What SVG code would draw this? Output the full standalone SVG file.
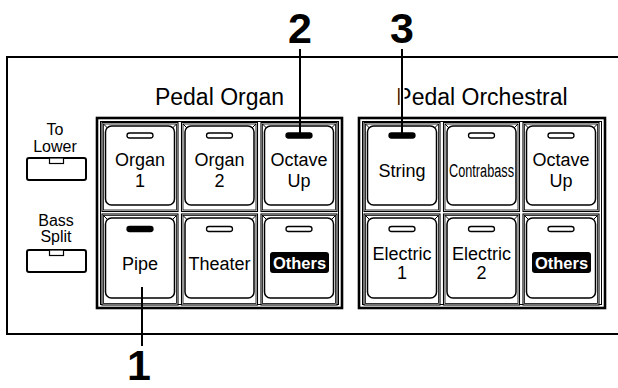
<svg xmlns="http://www.w3.org/2000/svg" width="618" height="388" viewBox="0 0 618 388">
<style>
text{font-family:"Liberation Sans",Arial,sans-serif;fill:#000}
.lbl{font-size:18px;text-anchor:middle}
.sm{font-size:16px;text-anchor:middle}
.grp{font-size:23px;text-anchor:middle}
.num{font-size:43px;font-weight:bold;text-anchor:middle}
.oth{font-size:16.5px;font-weight:bold;fill:#fff;text-anchor:middle}
.frame{fill:none;stroke:#000;stroke-width:2.6}
.inner{fill:none;stroke:#000;stroke-width:1}
.cell{fill:#fff;stroke:#000;stroke-width:1.1}
.body{fill:none;stroke:#000;stroke-width:0.8}
.face{fill:#fff;stroke:#000;stroke-width:1.5}
.bev{stroke:#000;stroke-width:1}
.off{fill:#fff;stroke:#000;stroke-width:1.3}
.on{fill:#000;stroke:#000;stroke-width:1.3}
.lead{stroke:#000;stroke-width:2;fill:none}
.panel{fill:none;stroke:#000;stroke-width:2}
.sbtn{fill:#fff;stroke:#000;stroke-width:2}
</style>
<defs>
<g id="keyTop">
<rect class="cell" x="0" y="0" width="76" height="89"/>
<rect class="body" x="1.5" y="1.5" width="73" height="86"/>
<line class="bev" x1="1.5" y1="1.5" x2="5.5" y2="5.5"/>
<line class="bev" x1="74.5" y1="1.5" x2="70.5" y2="5.5"/>
<rect class="face" x="3.5" y="3.5" width="69" height="79" rx="6"/>
</g>
<g id="keyBot">
<rect class="cell" x="0" y="0" width="76" height="91"/>
<rect class="body" x="1.5" y="1.5" width="73" height="88"/>
<line class="bev" x1="1.5" y1="1.5" x2="5.5" y2="5.5"/>
<line class="bev" x1="74.5" y1="1.5" x2="70.5" y2="5.5"/>
<rect class="face" x="3.5" y="4" width="69" height="80" rx="6"/>
</g>
</defs>
<rect width="618" height="388" fill="#fff"/>

<g id="panel">
<polyline class="panel" points="620,57 7,57 7,334 620,334"/>
</g>

<g id="to-lower">
<text class="sm" x="55" y="135">To</text>
<text class="sm" x="55" y="152">Lower</text>
<rect class="sbtn" x="27" y="158" width="59" height="22" rx="2"/>
<rect x="49.5" y="158" width="14" height="5.5" fill="#fff" stroke="#000" stroke-width="1.2"/>
</g>
<g id="bass-split">
<text class="sm" x="56" y="226">Bass</text>
<text class="sm" x="56" y="242">Split</text>
<rect class="sbtn" x="27" y="250" width="59" height="22" rx="2"/>
<rect x="49.5" y="250" width="14" height="5.5" fill="#fff" stroke="#000" stroke-width="1.2"/>
</g>

<g id="pedal-organ">
<text class="grp" x="219.5" y="105">Pedal Organ</text>
<rect class="frame" x="97" y="118" width="245" height="190"/>
<rect class="inner" x="100.5" y="121.5" width="238" height="183"/>
</g>
<g id="organ1">
<use href="#keyTop" x="102" y="122.5"/>
<rect class="off" x="127" y="133" width="26" height="5" rx="2.5"/>
<text class="lbl" x="140" y="166">Organ</text>
<text class="lbl" x="140" y="187">1</text>
</g>
<g id="organ2">
<use href="#keyTop" x="181.5" y="122.5"/>
<rect class="off" x="206.5" y="133" width="26" height="5" rx="2.5"/>
<text class="lbl" x="219.5" y="166">Organ</text>
<text class="lbl" x="219.5" y="187">2</text>
</g>
<g id="organ-octave-up">
<use href="#keyTop" x="261" y="122.5"/>
<rect class="on" x="286" y="133" width="26" height="5" rx="2.5"/>
<text class="lbl" x="299" y="166">Octave</text>
<text class="lbl" x="299" y="187">Up</text>
</g>
<g id="pipe">
<use href="#keyBot" x="102" y="214"/>
<rect class="on" x="127" y="226.5" width="26" height="5" rx="2.5"/>
<text class="lbl" x="140" y="270">Pipe</text>
</g>
<g id="theater">
<use href="#keyBot" x="181.5" y="214"/>
<rect class="off" x="206.5" y="226.5" width="26" height="5" rx="2.5"/>
<text class="lbl" x="219.5" y="270">Theater</text>
</g>
<g id="organ-others">
<use href="#keyBot" x="261" y="214"/>
<rect class="off" x="286" y="226.5" width="26" height="5" rx="2.5"/>
<rect x="270" y="252" width="59" height="21" rx="3" fill="#000"/>
<text class="oth" x="299.5" y="268.5">Others</text>
</g>

<g id="pedal-orchestral">
<text class="grp" x="482" y="105">Pedal Orchestral</text>
<rect class="frame" x="359" y="118" width="246" height="190"/>
<rect class="inner" x="362.5" y="121.5" width="239" height="183"/>
</g>
<g id="string">
<use href="#keyTop" x="364" y="122.5"/>
<rect class="on" x="389" y="133" width="26" height="5" rx="2.5"/>
<text class="lbl" x="402" y="177">String</text>
</g>
<g id="contrabass">
<use href="#keyTop" x="443.5" y="122.5"/>
<rect class="off" x="468.5" y="133" width="26" height="5" rx="2.5"/>
<text class="lbl" x="481.5" y="177" textLength="65" lengthAdjust="spacingAndGlyphs">Contrabass</text>
</g>
<g id="orch-octave-up">
<use href="#keyTop" x="523" y="122.5"/>
<rect class="off" x="548" y="133" width="26" height="5" rx="2.5"/>
<text class="lbl" x="561" y="166">Octave</text>
<text class="lbl" x="561" y="187">Up</text>
</g>
<g id="electric1">
<use href="#keyBot" x="364" y="214"/>
<rect class="off" x="389" y="226.5" width="26" height="5" rx="2.5"/>
<text class="lbl" x="402" y="260">Electric</text>
<text class="lbl" x="402" y="279">1</text>
</g>
<g id="electric2">
<use href="#keyBot" x="443.5" y="214"/>
<rect class="off" x="468.5" y="226.5" width="26" height="5" rx="2.5"/>
<text class="lbl" x="481.5" y="260">Electric</text>
<text class="lbl" x="481.5" y="279">2</text>
</g>
<g id="orch-others">
<use href="#keyBot" x="523" y="214"/>
<rect class="off" x="548" y="226.5" width="26" height="5" rx="2.5"/>
<rect x="532" y="252" width="59" height="21" rx="3" fill="#000"/>
<text class="oth" x="561.5" y="268.5">Others</text>
</g>

<g id="callouts">
<text class="num" x="300" y="43">2</text>
<text class="num" x="402" y="43">3</text>
<text class="num" x="139" y="380">1</text>
<line x1="402" y1="84" x2="402" y2="108" stroke="#fff" stroke-width="5"/>
<line class="lead" x1="300" y1="49" x2="300" y2="133"/>
<line class="lead" x1="402" y1="49" x2="402" y2="133"/>
<line class="lead" x1="142" y1="287" x2="142" y2="346"/>
</g>
</svg>
